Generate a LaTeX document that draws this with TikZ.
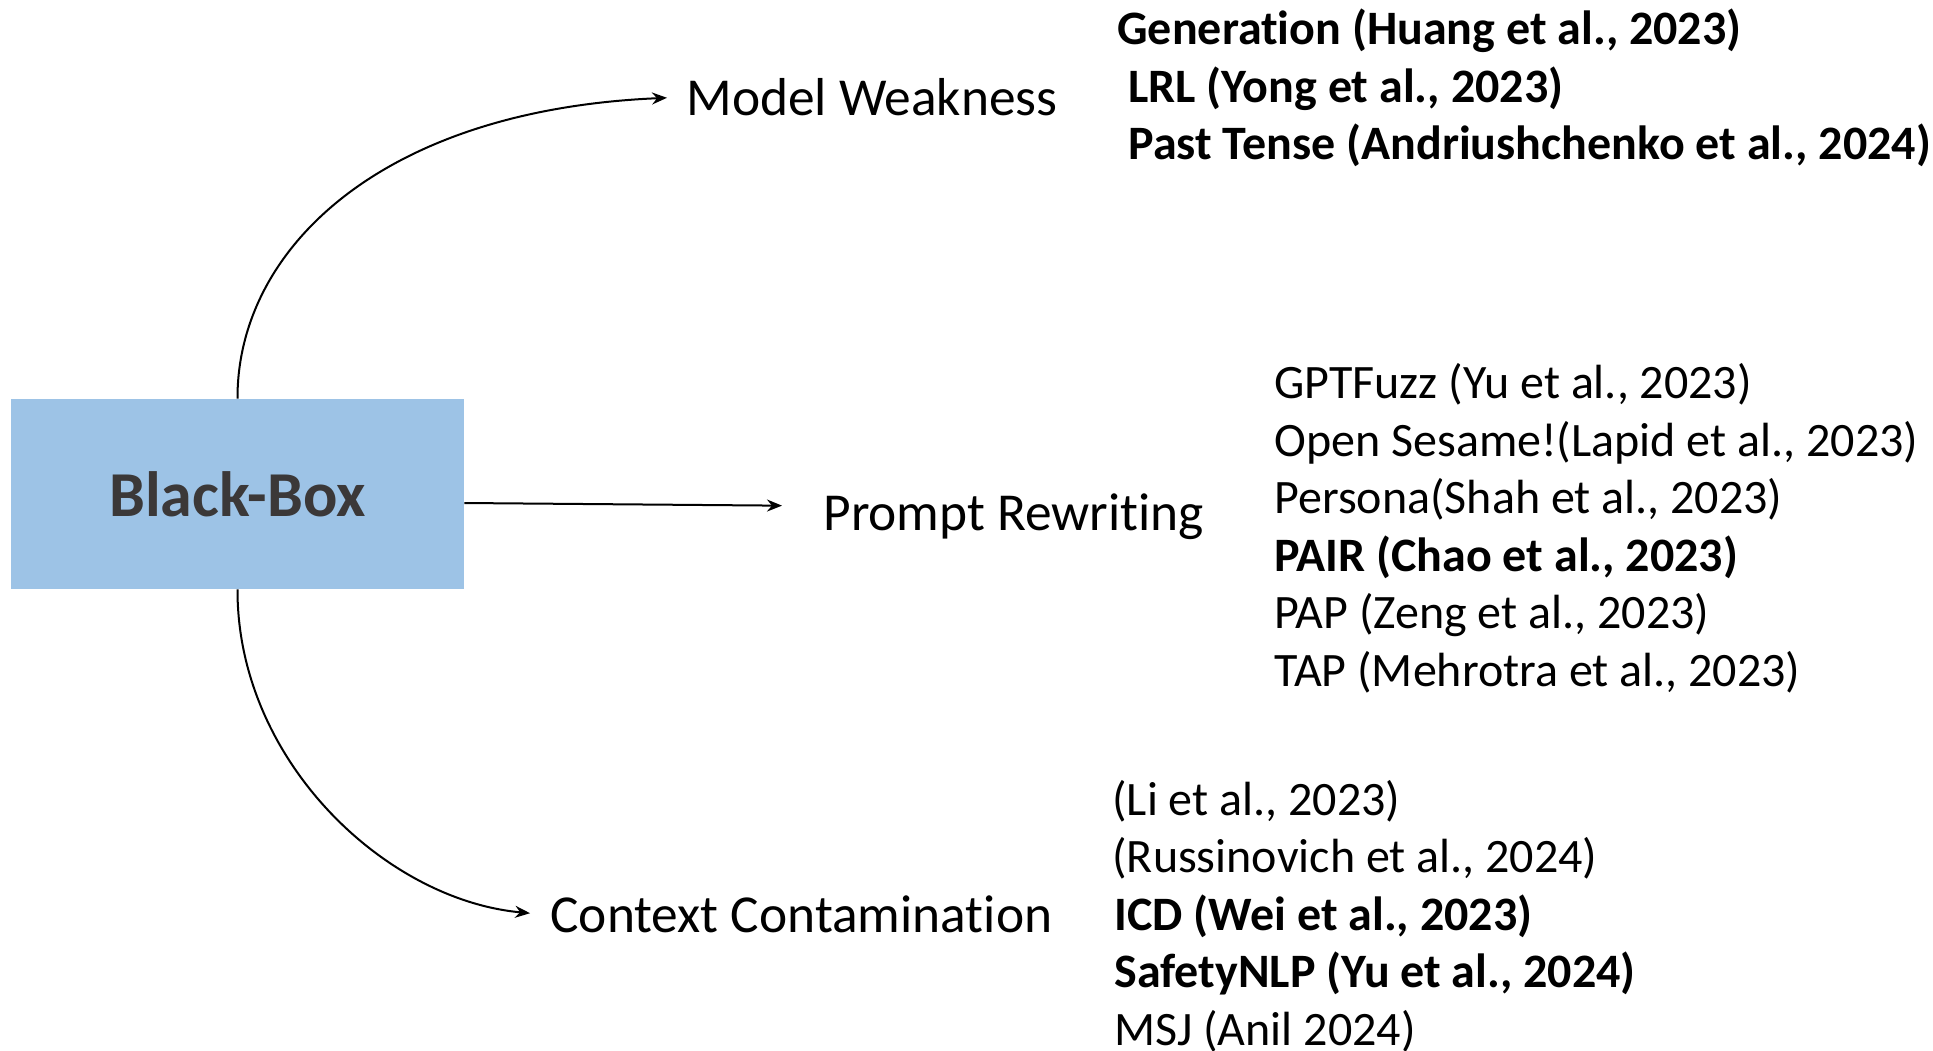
\documentclass[tikz,border=0pt]{standalone}
\usepackage{fontspec}
\setmainfont{Carlito}[Ligatures={NoCommon,NoRequired,NoContextual}]
\usetikzlibrary{arrows.meta}
\definecolor{boxblue}{HTML}{9DC3E6}
\definecolor{boxtext}{HTML}{3B3838}
\begin{document}
\begin{tikzpicture}[x=0.5pt,y=-0.5pt,
  conn/.style={line width=1pt,-{Stealth[length=7.5pt,width=6pt,inset=2.5pt]}},
  branch/.style={anchor=base west,inner sep=0pt,font=\fontsize{26.7}{32}\selectfont},
  ref/.style={anchor=base west,inner sep=0pt,font=\fontsize{24}{28.75}\selectfont},
  refb/.style={ref,font=\fontsize{24}{28.75}\selectfont\bfseries}]
\useasboundingbox (0,0) rectangle (1933,1050);

% root box
\node[fill=boxblue,minimum width=226.5pt,minimum height=95pt,inner sep=0pt,
      text=boxtext,font=\fontsize{32}{38}\selectfont\bfseries] (bb) at (237.5,494) {Black-Box};

% branch labels
\node[branch] (mw) at (686,115) {Model Weakness};
\node[branch] (pr) at (823,530) {Prompt Rewriting};
\node[branch] (cc) at (550,932) {Context Contamination};

% connectors
\draw[conn,shorten >=9.5pt] (bb.north) .. controls (237,250) and (380,110) .. ([yshift=9pt]mw.base west);
\draw[conn,shorten >=20.5pt] ([yshift=-4.5pt]bb.east) -- ([yshift=12pt]pr.base west);
\draw[conn,shorten >=10pt] (bb.south) .. controls (237,760) and (385,900) .. ([yshift=8.5pt]cc.base west);

% model weakness references
\node[refb] (w1) at (1117,44) {Generation (Huang et al., 2023)};
\node[refb] (w2) at (1128,102) {LRL (Yong et al., 2023)};
\node[refb] (w3) at (1128,159) {Past Tense (Andriushchenko et al., 2024)};

% prompt rewriting references
\node[ref]  (p1) at (1274,398) {GPTFuzz (Yu et al., 2023)};
\node[ref]  (p2) at (1274,456) {Open Sesame!(Lapid et al., 2023)};
\node[ref]  (p3) at (1274,513) {Persona(Shah et al., 2023)};
\node[refb] (p4) at (1274,571) {PAIR (Chao et al., 2023)};
\node[ref]  (p5) at (1274,628) {PAP (Zeng et al., 2023)};
\node[ref]  (p6) at (1274,686) {TAP (Mehrotra et al., 2023)};

% context contamination references
\node[ref]  (c1) at (1112,815) {(Li et al., 2023)};
\node[ref]  (c2) at (1112,872.5) {(Russinovich et al., 2024)};
\node[refb] (c3) at (1114,930) {ICD (Wei et al., 2023)};
\node[refb] (c4) at (1114,987.5) {SafetyNLP (Yu et al., 2024)};
\node[ref]  (c5) at (1114,1045) {MSJ (Anil 2024)};
\end{tikzpicture}
\end{document}
